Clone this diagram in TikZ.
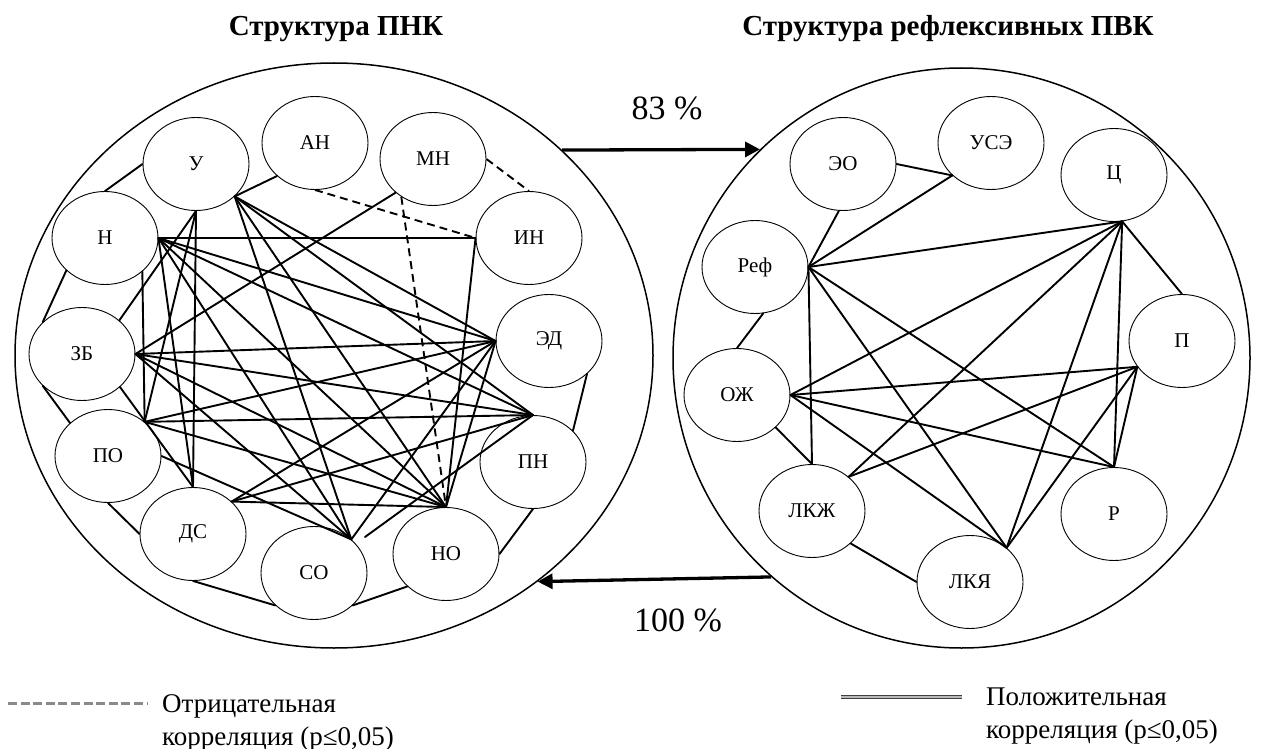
\documentclass[tikz,border=0pt]{standalone}
\usepackage{fontspec}
\setmainfont{Liberation Serif}
\usepackage{tikz}
\usetikzlibrary{arrows.meta,shapes.geometric}
\definecolor{ink}{HTML}{000000}
\definecolor{shade}{HTML}{8A8A8A}
\tikzset{
  ring/.style={ellipse, draw=ink, line width=1.5pt, inner sep=0pt},
  nd/.style={ellipse, draw=ink, line width=0.9pt, minimum width=106pt, minimum height=93pt, inner sep=0pt, font=\fontsize{21}{24}\selectfont},
  posline/.style={draw=ink, line width=1.9pt, line cap=round},
  negline/.style={draw=ink, line width=1.9pt, dash pattern=on 8pt off 5pt},
  arr/.style={draw=ink, line width=3.3pt, -{Triangle[length=15pt,width=15pt]}},
  ttl/.style={font=\fontsize{29}{33}\selectfont\bfseries, anchor=base},
  pct/.style={font=\fontsize{34}{40}\selectfont},
  leg/.style={font=\fontsize{27}{33}\selectfont, align=left, inner sep=0pt, anchor=north west},
}

\begin{document}
\begin{tikzpicture}[x=1pt,y=-1pt]
  \useasboundingbox (0,0) rectangle (1262,749);
  % titles
  \node[ttl] (t1) at (336,36) {Структура ПНК};
  \node[ttl] (t2) at (948,36) {Структура рефлексивных ПВК};
  % outer ovals
  \node[ring, minimum width=638pt, minimum height=585pt] (pnk) at (334,355.5) {};
  \node[ring, minimum width=577pt, minimum height=580pt] (pvk) at (961.5,358) {};
  % left structure
  \foreach \id/\x/\y/\t in {U/196/164/У, AN/315/143/АН, MN/433/159/МН, N/105/238/Н,
      IN/529/238/ИН, ZB/82/354/ЗБ, ED/549/341/ЭД, PO/108/456/ПО, PN/533/462/ПН,
      DS/193/534/ДС, SO/314/573/СО, NO/446/554/НО}
    \node[nd] (\id) at (\x,\y) {\t};
  \coordinate (soend) at (365,537);
  \foreach \a/\b in {N.north/U.west, U.-40/AN.221, N.220/ZB.141, ZB.219/PO.139,
      PO.south/DS.west, DS.south/SO.220, SO.-40/NO.220, NO.east/PN.south, PN.38/ED.-41,
      N.east/IN.west, N.-42/PO.43, IN.west/NO.north, MN.222/ZB.east,
      U.south/DS.north, U.south/PO.43, U.south/ZB.42,
      U.-40/ED.west, U.-40/PN.north, U.-40/NO.north, U.-40/SO.42,
      N.east/ED.west, N.east/PN.north, N.east/NO.north, N.east/SO.42, N.east/DS.north,
      ZB.east/ED.west, ZB.east/PN.north, ZB.east/NO.north, ZB.east/SO.42, ZB.-41/DS.north,
      PO.43/ED.west, PO.43/PN.north, PO.43/NO.north, PO.east/SO.42,
      DS.40/ED.west, DS.40/PN.north, DS.40/NO.north,
      SO.42/ED.west, NO.north/ED.west, PN.north/soend}
    \draw[posline] (\a) -- (\b);
  \foreach \a/\b in {AN.south/IN.west, MN.east/IN.north, MN.230/NO.north}
    \draw[negline] (\a) -- (\b);
  % right structure
  \foreach \id/\x/\y/\t in {EO/843/164/ЭО, USE/991/143/УСЭ, C/1114/175/Ц, Ref/755/267/Реф,
      P/1182/341/П, OZh/737/395/ОЖ, LKZh/812/511/ЛКЖ, LKYa/970/582/ЛКЯ, R/1114/514/Р}
    \node[nd] (\id) at (\x,\y) {\t};
  \foreach \a/\b in {EO.east/USE.220, EO.-95/Ref.east, USE.220/Ref.east, Ref.east/C.-80,
      Ref.-80/OZh.north, Ref.east/LKZh.north, Ref.east/LKYa.43, Ref.east/R.north,
      C.-80/P.north, C.-80/R.north, C.-80/LKYa.43, C.-80/LKZh.43, C.-80/OZh.east,
      OZh.east/P.210, OZh.east/R.north, OZh.east/LKYa.43, OZh.-40/LKZh.north,
      LKZh.43/P.210, LKZh.-40/LKYa.west, LKYa.43/P.210, R.north/P.210}
    \draw[posline] (\a) -- (\b);
  % transitions
  \draw[arr] (pnk.42) -- (pvk.134);
  \draw[arr] (pvk.229) -- (pnk.-48);
  \node[pct] (p83) at (667,108) {83 \%};
  \node[pct] (p100) at (678,620) {100 \%};
  % legend
  \draw[draw=shade, line width=3pt, dash pattern=on 9pt off 3.6pt] (8,703) -- (147,703);
  \node[leg] (lneg) at (162,694.5) {Отрицательная\\корреляция (p≤0,05)};
  \draw[draw=ink!75, double=shade!60, double distance=1.6pt, line width=0.9pt] (841,697) -- (962,697);
  \node[leg] (lpos) at (986,688) {Положительная\\корреляция (p≤0,05)};
\end{tikzpicture}
\end{document}
